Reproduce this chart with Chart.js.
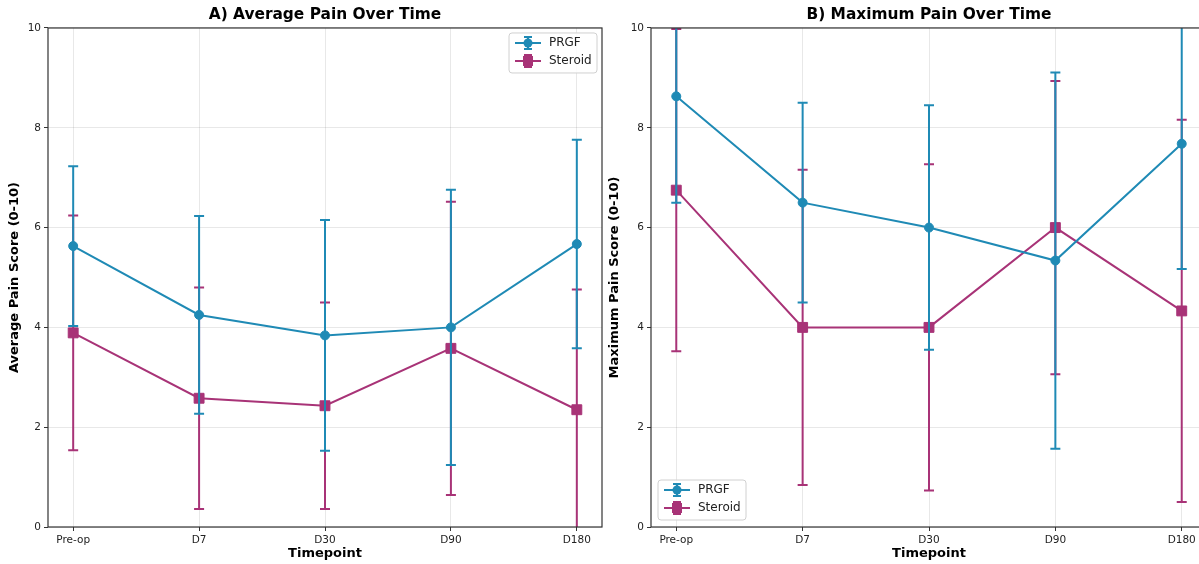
<!DOCTYPE html>
<html>
<head>
<meta charset="utf-8">
<script src="https://cdn.jsdelivr.net/npm/chart.js@4.4.1/dist/chart.umd.min.js"></script>
<style>
  html, body { margin: 0; padding: 0; background: #fff; overflow: hidden; }
  body { width: 1199px; height: 564px; position: relative; }
  .panel { position: absolute; top: 0; height: 564px; }
  #panelA { left: 0; width: 610px; }
  #panelB { left: 600px; width: 615px; }
</style>
</head>
<body>
<div class="panel" id="panelA"><canvas id="graficaAvg"></canvas></div>
<div class="panel" id="panelB"><canvas id="graficaMax"></canvas></div>
<script>
// datos
const timepoints = ["Pre-op", "D7", "D30", "D90", "D180"];
const yTicks = [0, 2, 4, 6, 8, 10];

const avgPrgfMean = [5.63, 4.25, 3.84, 4.0, 5.67];
const avgPrgfSd = [1.6, 1.98, 2.31, 2.76, 2.09];
const avgSteroidMean = [3.89, 2.58, 2.43, 3.58, 2.35];
const avgSteroidSd = [2.35, 2.22, 2.07, 2.94, 2.41];

const maxPrgfMean = [8.63, 6.5, 6.0, 5.34, 7.68];
const maxPrgfSd = [2.13, 2.0, 2.45, 3.77, 2.51];
const maxSteroidMean = [6.75, 4.0, 4.0, 6.0, 4.33];
const maxSteroidSd = [3.23, 3.16, 3.27, 2.94, 3.83];

const colorPrgf = "#1f8ab5";
const colorSteroid = "#a83377";

Chart.defaults.font.family = "'DejaVu Sans', sans-serif";
Chart.defaults.color = "#222";

// barras de error, marco y leyenda dibujados con las escalas de Chart.js
const errorBarPlugin = {
  id: "errorBars",
  beforeDatasetDraw(chart, args) {
    const ds = chart.data.datasets[args.index];
    const y = chart.scales.y;
    const ctx = chart.ctx;
    const area = chart.chartArea;
    ctx.save();
    ctx.beginPath();
    ctx.rect(area.left, area.top, area.right - area.left, area.bottom - area.top);
    ctx.clip();
    ctx.strokeStyle = ds.borderColor;
    ctx.lineWidth = 2;
    args.meta.data.forEach(function (pt, i) {
      const v = ds.data[i].y;
      const e = ds.errors[i];
      const yTop = y.getPixelForValue(v + e);
      const yBot = y.getPixelForValue(v - e);
      ctx.beginPath();
      ctx.moveTo(pt.x, yTop);
      ctx.lineTo(pt.x, yBot);
      ctx.moveTo(pt.x - 5, yTop);
      ctx.lineTo(pt.x + 5, yTop);
      ctx.moveTo(pt.x - 5, yBot);
      ctx.lineTo(pt.x + 5, yBot);
      ctx.stroke();
    });
    ctx.restore();
  },
  afterDraw(chart, args, opts) {
    const ctx = chart.ctx;
    const area = chart.chartArea;
    ctx.save();
    ctx.strokeStyle = "#333";
    ctx.lineWidth = 1.2;
    ctx.strokeRect(area.left, area.top, area.right - area.left, area.bottom - area.top);

    // leyenda
    const w = 88, h = 40;
    let bx, by;
    if (opts.where === "upper right") {
      bx = area.right - 5 - w;
      by = area.top + 5;
    } else {
      bx = area.left + 7;
      by = area.bottom - 7 - h;
    }
    ctx.fillStyle = "rgba(255,255,255,0.85)";
    ctx.strokeStyle = "#d0d0d0";
    ctx.lineWidth = 1;
    ctx.beginPath();
    ctx.roundRect(bx, by, w, h, 3);
    ctx.fill();
    ctx.stroke();

    chart.data.datasets.forEach(function (ds, i) {
      const ry = by + 10 + i * 18;
      const cx = bx + 19;
      ctx.strokeStyle = ds.borderColor;
      ctx.fillStyle = ds.borderColor;
      ctx.lineWidth = 2;
      ctx.beginPath();
      ctx.moveTo(bx + 6, ry);
      ctx.lineTo(bx + 32, ry);
      ctx.moveTo(cx, ry - 6);
      ctx.lineTo(cx, ry + 6);
      ctx.moveTo(cx - 4, ry - 6);
      ctx.lineTo(cx + 4, ry - 6);
      ctx.moveTo(cx - 4, ry + 6);
      ctx.lineTo(cx + 4, ry + 6);
      ctx.stroke();
      if (ds.pointStyle === "rect") {
        ctx.fillRect(cx - 5, ry - 5, 10, 10);
      } else {
        ctx.beginPath();
        ctx.arc(cx, ry, 4.5, 0, Math.PI * 2);
        ctx.fill();
      }
      ctx.fillStyle = "#222";
      ctx.font = "12px 'DejaVu Sans', sans-serif";
      ctx.textBaseline = "middle";
      ctx.textAlign = "left";
      ctx.fillText(ds.label, bx + 40, ry);
    });
    ctx.restore();
  },
};

function crearGrafica(id, titulo, yTitulo, prgfMean, prgfSd, steroidMean, steroidSd, legendWhere, yWidth, padRight) {
  const ctx = document.getElementById(id).getContext("2d");
  return new Chart(ctx, {
    type: "line",
    data: {
      datasets: [
        {
          label: "PRGF",
          data: prgfMean.map((v, i) => ({ x: i, y: v })),
          errors: prgfSd,
          borderColor: colorPrgf,
          backgroundColor: colorPrgf,
          borderWidth: 2,
          pointStyle: "circle",
          pointRadius: 4.5,
          pointBorderWidth: 1,
          tension: 0,
        },
        {
          label: "Steroid",
          data: steroidMean.map((v, i) => ({ x: i, y: v })),
          errors: steroidSd,
          borderColor: colorSteroid,
          backgroundColor: colorSteroid,
          borderWidth: 2,
          pointStyle: "rect",
          pointRadius: 7,
          pointBorderWidth: 1,
          tension: 0,
        },
      ],
    },
    options: {
      responsive: true,
      maintainAspectRatio: false,
      animation: false,
      layout: { padding: { left: 0, right: padRight, top: 0, bottom: 0 } },
      scales: {
        x: {
          type: "linear",
          min: -0.2,
          max: 4.2,
          afterBuildTicks: function (axis) {
            axis.ticks = timepoints.map((t, i) => ({ value: i }));
          },
          afterFit: function (scale) {
            scale.height = 37;
          },
          ticks: {
            autoSkip: false,
            maxRotation: 0,
            padding: 3,
            color: "#222",
            font: { size: 10.5 },
            callback: function (value) {
              return timepoints[value];
            },
          },
          grid: { color: "rgba(0,0,0,0.09)", tickColor: "#333", tickLength: 4 },
          border: { display: false },
          title: {
            display: true,
            text: "Timepoint",
            font: { size: 13, weight: "bold" },
            color: "#000",
            padding: { top: 0, bottom: 3 },
          },
        },
        y: {
          min: 0,
          max: 10,
          afterBuildTicks: function (axis) {
            axis.ticks = yTicks.map((v) => ({ value: v }));
          },
          afterFit: function (scale) {
            scale.width = yWidth;
          },
          ticks: {
            padding: 3,
            color: "#222",
            font: { size: 10.5 },
            callback: function (value) {
              return String(value);
            },
          },
          grid: { color: "rgba(0,0,0,0.09)", tickColor: "#333", tickLength: 4 },
          border: { display: false },
          title: {
            display: true,
            text: yTitulo,
            font: { size: 13, weight: "bold" },
            color: "#000",
            padding: { top: 7, bottom: 0 },
          },
        },
      },
      plugins: {
        legend: { display: false },
        tooltip: { enabled: false },
        title: {
          display: true,
          fullSize: false,
          text: titulo,
          color: "#000",
          font: { size: 15.4, weight: "bold" },
          padding: { top: 6, bottom: 3.5 },
        },
        errorBars: { where: legendWhere },
      },
    },
    plugins: [errorBarPlugin],
  });
}

crearGrafica("graficaAvg", "A) Average Pain Over Time", "Average Pain Score (0-10)",
  avgPrgfMean, avgPrgfSd, avgSteroidMean, avgSteroidSd, "upper right", 48, 4);
crearGrafica("graficaMax", "B) Maximum Pain Over Time", "Maximum Pain Score (0-10)",
  maxPrgfMean, maxPrgfSd, maxSteroidMean, maxSteroidSd, "lower left", 51, 6);
</script>
</body>
</html>
